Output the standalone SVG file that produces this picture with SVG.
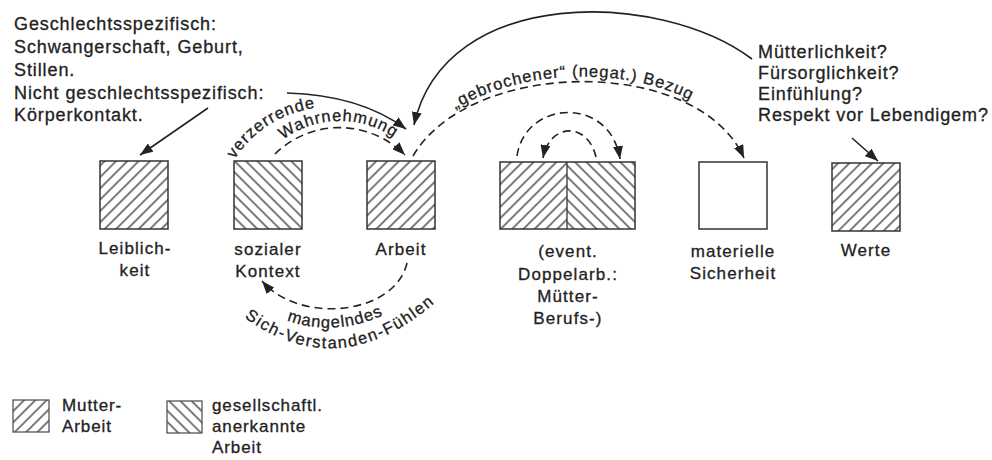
<svg xmlns="http://www.w3.org/2000/svg" xmlns:xlink="http://www.w3.org/1999/xlink" width="992" height="460" viewBox="0 0 992 460">
<style>
text{font-family:"Liberation Sans",Arial,sans-serif;fill:#222;stroke:#222;stroke-width:0.3px;}
.t{font-size:18px;letter-spacing:0.9px;}
.lb{font-size:17px;letter-spacing:1.1px;text-anchor:middle;}
.cv{font-size:16.5px;letter-spacing:1px;}
.box{stroke:#333;stroke-width:1.5;}
.ln{fill:none;stroke:#222;stroke-width:1.6;}
.ds{fill:none;stroke:#222;stroke-width:1.6;stroke-dasharray:8 5;}
</style>
<defs>
<pattern id="hf" patternUnits="userSpaceOnUse" width="8" height="8" patternTransform="rotate(45)"><line x1="4" y1="0" x2="4" y2="8" stroke="#333" stroke-width="1.3"/></pattern>
<pattern id="hb" patternUnits="userSpaceOnUse" width="8" height="8" patternTransform="rotate(-45)"><line x1="4" y1="0" x2="4" y2="8" stroke="#333" stroke-width="1.3"/></pattern>
<marker id="ah" markerUnits="userSpaceOnUse" markerWidth="13" markerHeight="10" refX="13" refY="5" orient="auto"><path d="M0,0 L13,5 L0,10 z" fill="#222"/></marker>
<path id="pVerz" d="M 217 220 A 113 113 0 0 1 443 220"/>
<path id="pWahr" d="M 244 217 A 96 96 0 0 1 436 217"/>
<path id="pGebr" d="M 413 151 C 470 53, 698 50, 743 153"/>
<path id="pMang" d="M 265 310 Q 335 350 410 300"/>
<path id="pSich" d="M 230 306 Q 338 398 449 290"/>
</defs>
<rect width="992" height="460" fill="#fff"/>

<g id="text-left">
<text class="t" x="14" y="30">Geschlechtsspezifisch:</text>
<text class="t" x="14" y="53">Schwangerschaft, Geburt,</text>
<text class="t" x="14" y="76">Stillen.</text>
<text class="t" x="14" y="99">Nicht geschlechtsspezifisch:</text>
<text class="t" x="14" y="121">Körperkontakt.</text>
</g>
<g id="text-right">
<text class="t" x="758" y="58">Mütterlichkeit?</text>
<text class="t" x="758" y="79">Fürsorglichkeit?</text>
<text class="t" x="758" y="100">Einfühlung?</text>
<text class="t" x="758" y="121">Respekt vor Lebendigem?</text>
</g>

<g id="leiblichkeit">
<rect class="box" x="100" y="161" width="68" height="68" fill="url(#hf)"/>
<text class="lb" x="135" y="254">Leiblich-</text>
<text class="lb" x="135" y="276">keit</text>
</g>
<g id="sozialer-kontext">
<rect class="box" x="234" y="161" width="68" height="68" fill="url(#hb)"/>
<text class="lb" x="268" y="255">sozialer</text>
<text class="lb" x="268" y="277">Kontext</text>
</g>
<g id="arbeit">
<rect class="box" x="367" y="161" width="68" height="68" fill="url(#hf)"/>
<text class="lb" x="401" y="255">Arbeit</text>
</g>
<g id="doppelarbeit">
<rect x="500" y="162" width="67" height="67" fill="url(#hf)"/>
<rect x="567" y="162" width="68" height="67" fill="url(#hb)"/>
<rect class="box" x="500" y="162" width="135" height="67" fill="none"/>
<line x1="567" y1="162" x2="567" y2="229" stroke="#333" stroke-width="1.3"/>
<text class="lb" x="568" y="257">(event.</text>
<text class="lb" x="568" y="280">Doppelarb.:</text>
<text class="lb" x="568" y="302">Mütter-</text>
<text class="lb" x="568" y="324">Berufs-)</text>
</g>
<g id="materielle-sicherheit">
<rect class="box" x="699" y="162" width="68" height="67" fill="#fff"/>
<text class="lb" x="733" y="257">materielle</text>
<text class="lb" x="733" y="279">Sicherheit</text>
</g>
<g id="werte">
<rect class="box" x="832" y="163" width="68" height="68" fill="url(#hf)"/>
<text class="lb" x="866" y="256">Werte</text>
</g>

<g id="connectors">
<line class="ln" x1="208" y1="108" x2="140" y2="155" marker-end="url(#ah)"/>
<path class="ln" d="M 287 93 Q 360 95 406 129" marker-end="url(#ah)"/>
<path class="ln" d="M 752 59 C 660 -10, 445 -15, 414 125" marker-end="url(#ah)"/>
<line class="ln" x1="852" y1="138" x2="878" y2="161" marker-end="url(#ah)"/>
<path class="ds" d="M 275 154 A 92 92 0 0 1 405 155" marker-end="url(#ah)"/>
<path class="ds" d="M 413 156 C 470 58, 698 55, 744 158" marker-end="url(#ah)"/>
<path class="ds" d="M 517 156 C 525 100, 610 95, 620 159" marker-end="url(#ah)"/>
<path class="ds" d="M 596 157 C 588 122, 550 122, 543 158" marker-end="url(#ah)"/>
<path class="ds" d="M 407 263 C 395 315, 300 325, 262 281" marker-end="url(#ah)"/>
</g>

<g id="curved-labels">
<text class="cv"><textPath xlink:href="#pVerz" href="#pVerz" startOffset="64">verzerrende</textPath></text>
<text class="cv" text-anchor="middle"><textPath xlink:href="#pWahr" href="#pWahr" startOffset="149">Wahrnehmung</textPath></text>
<text class="cv" text-anchor="middle"><textPath xlink:href="#pGebr" href="#pGebr" startOffset="48%">„gebrochener“ (negat.) Bezug</textPath></text>
<text class="cv" text-anchor="middle"><textPath xlink:href="#pMang" href="#pMang" startOffset="48%">mangelndes</textPath></text>
<text class="cv" text-anchor="middle" style="letter-spacing:1.5px"><textPath xlink:href="#pSich" href="#pSich" startOffset="50%">Sich-Verstanden-Fühlen</textPath></text>
</g>

<g id="legend-mutter">
<rect x="13" y="400" width="36" height="32" fill="url(#hf)" stroke="#555" stroke-width="1.3"/>
<text class="t" x="62" y="411" style="font-size:17px">Mutter-</text>
<text class="t" x="62" y="432" style="font-size:17px">Arbeit</text>
</g>
<g id="legend-gesellschaftl">
<rect x="167" y="401" width="35" height="32" fill="url(#hb)" stroke="#555" stroke-width="1.3"/>
<text class="t" x="212" y="411" style="font-size:17px">gesellschaftl.</text>
<text class="t" x="212" y="432" style="font-size:17px">anerkannte</text>
<text class="t" x="212" y="453" style="font-size:17px">Arbeit</text>
</g>
</svg>
